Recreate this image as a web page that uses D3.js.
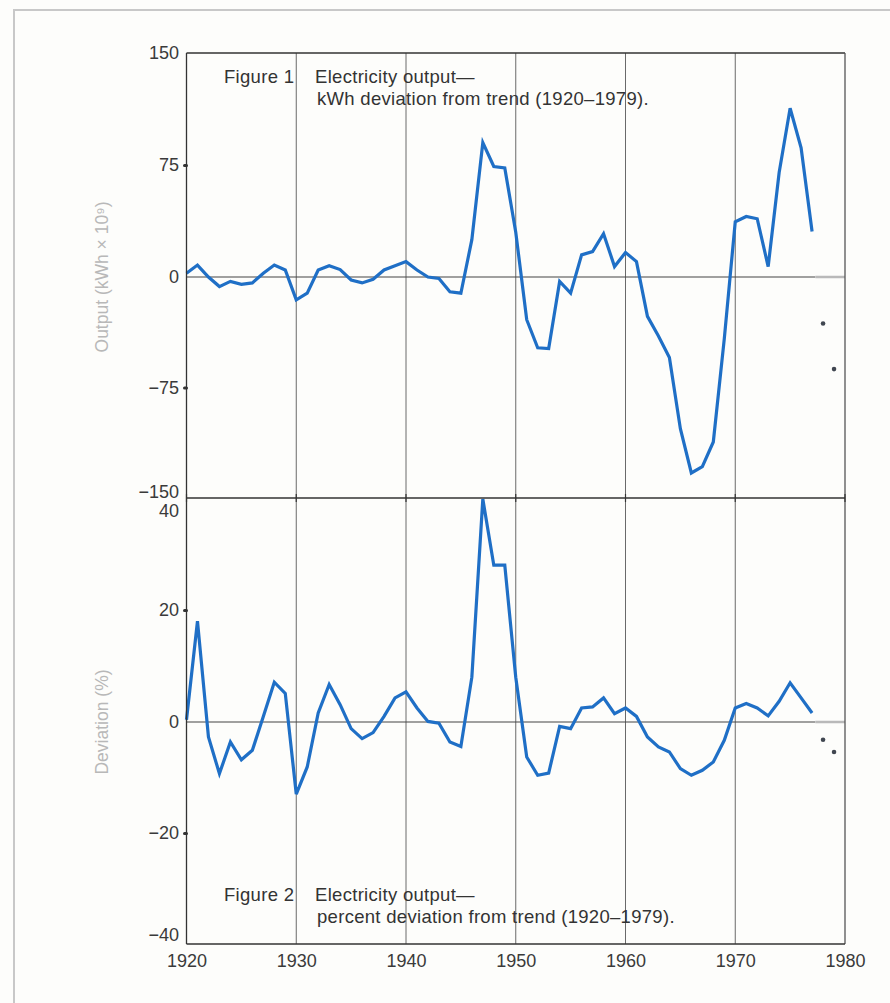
<!DOCTYPE html>
<html>
<head>
<meta charset="utf-8">
<script src="https://cdn.jsdelivr.net/npm/d3@7"></script>
<style>
  html, body { margin: 0; padding: 0; background: #fdfdfb; }
  svg { display: block; }
  text { font-family: "Liberation Sans", Arial, Helvetica, sans-serif; }
</style>
</head>
<body>
<div id="chart"></div>
<script>
// Years with observed values
const years = [
  1920, 1921, 1922, 1923, 1924, 1925, 1926, 1927, 1928, 1929,
  1930, 1931, 1932, 1933, 1934, 1935, 1936, 1937, 1938, 1939,
  1940, 1941, 1942, 1943, 1944, 1945, 1946, 1947, 1948, 1949,
  1950, 1951, 1952, 1953, 1954, 1955, 1956, 1957, 1958, 1959,
  1960, 1961, 1962, 1963, 1964, 1965, 1966, 1967, 1968, 1969,
  1970, 1971, 1972, 1973, 1974, 1975, 1976, 1977
];

// Figure 1: kWh deviation from trend (x 10^9)
const kwhDeviation = [
  2.5, 8, 0, -6.5, -3, -5, -4, 2.5, 8, 4.7,
  -15.5, -11, 4.7, 7.6, 5, -2, -4, -1.5, 4.7, 7.6,
  10.3, 4.7, 0, -1, -10, -11, 25, 90, 74, 73,
  30, -29, -48, -48.6, -3, -11, 14.8, 17, 29, 7,
  16.4, 10.3, -26.7, -40, -54.7, -103, -133, -128.7, -112, -42,
  37, 40.5, 39, 7, 70, 113, 86.5, 30.5
];

// Figure 2: percent deviation from trend
const pctDeviation = [
  0.4, 18, -2.7, -9.3, -3.6, -6.8, -5.1, 1, 7.1, 5.1,
  -13, -8.1, 1.6, 6.7, 3.1, -1.2, -3, -1.9, 1, 4.3,
  5.4, 2.5, 0.1, -0.2, -3.6, -4.4, 8, 39.8, 28, 28,
  8, -6.3, -9.6, -9.2, -0.8, -1.2, 2.5, 2.7, 4.3, 1.5,
  2.5, 1, -2.7, -4.5, -5.4, -8.4, -9.6, -8.7, -7.2, -3.3,
  2.5, 3.3, 2.5, 1.1, 3.7, 7, 4.3, 1.6
];

// Isolated points for the last two years
const extraYears = [1978, 1979];
const kwhExtra = [-31.6, -62.5];
const pctExtra = [-3.2, -5.4];

const decadeTicks = [1920, 1930, 1940, 1950, 1960, 1970, 1980];
const kwhTicks = [150, 75, 0, -75, -150];
const pctTicks = [40, 20, 0, -20, -40];

const width = 890, height = 1003;
const blue = '#1f6fc6';

const svg = d3.select('#chart')
  .append('svg')
  .attr('width', width)
  .attr('height', height);

// page background + scan frame
svg.append('rect').attr('width', width).attr('height', height).attr('fill', '#fdfdfb');
svg.append('path')
  .attr('d', 'M14,1003 L14,10 L890,10')
  .attr('fill', 'none')
  .attr('stroke', '#c8c8c8')
  .attr('stroke-width', 2);

// scales
const x = d3.scaleLinear().domain([1920, 1980]).range([186.5, 845]);
const yTop = d3.scaleLinear().domain([-150, 0, 150]).range([498, 277, 53]);
const yBot = d3.scaleLinear().domain([-40, 0, 40]).range([944, 722, 498]);

const fmt = v => v < 0 ? '\u2212' + Math.abs(v) : String(v);

// vertical decade grid through both panels
svg.append('g')
  .selectAll('line')
  .data(decadeTicks.slice(1, -1))
  .join('line')
  .attr('x1', d => x(d)).attr('x2', d => x(d))
  .attr('y1', yTop(150)).attr('y2', yBot(-40))
  .attr('stroke', '#6a6a6a')
  .attr('stroke-width', 1);

function drawPanel(yScale, ticks, values, extraValues, yMax, yMin, labelShift, title) {
  const g = svg.append('g');

  // zero line
  g.append('line')
    .attr('x1', x(1920)).attr('x2', x(1977.3))
    .attr('y1', yScale(0)).attr('y2', yScale(0))
    .attr('stroke', '#444').attr('stroke-width', 1.2);
  g.append('line')
    .attr('x1', x(1977.3)).attr('x2', x(1980))
    .attr('y1', yScale(0)).attr('y2', yScale(0))
    .attr('stroke', '#b9b9b9').attr('stroke-width', 2.5);

  // left axis with dot-like ticks
  const axis = d3.axisLeft(yScale)
    .tickValues(ticks.filter(t => t !== yMax && t !== yMin && t !== 0))
    .tickSize(2)
    .tickFormat('');
  const ag = g.append('g').attr('transform', `translate(${x(1920)},0)`).call(axis);
  ag.select('.domain').remove();
  ag.selectAll('.tick line').attr('stroke', '#333').attr('stroke-width', 3).attr('stroke-linecap', 'round');

  // tick labels
  g.append('g')
    .selectAll('text')
    .data(ticks)
    .join('text')
    .attr('x', 179)
    .attr('y', d => yScale(d) + (labelShift[d] || 0))
    .attr('dy', '0.35em')
    .attr('text-anchor', 'end')
    .attr('font-size', 18)
    .attr('fill', '#3a3a3a')
    .text(fmt);

  // axis title
  g.append('text')
    .attr('transform', `translate(108,${yScale(0)}) rotate(-90)`)
    .attr('text-anchor', 'middle')
    .attr('font-size', 17.5)
    .attr('fill', '#b8b8b8')
    .text(title);

  // series line
  const line = d3.line()
    .x((d, i) => x(years[i]))
    .y(d => yScale(d));
  g.append('path')
    .datum(values)
    .attr('d', line)
    .attr('fill', 'none')
    .attr('stroke', blue)
    .attr('stroke-width', 3.2)
    .attr('stroke-linejoin', 'miter');

  // isolated points
  g.append('g')
    .selectAll('circle')
    .data(extraValues)
    .join('circle')
    .attr('cx', (d, i) => x(extraYears[i]))
    .attr('cy', d => yScale(d))
    .attr('r', 2.3)
    .attr('fill', '#404650');
}

drawPanel(yTop, kwhTicks, kwhDeviation, kwhExtra, 150, -150, { '-150': -6 }, 'Output (kWh \u00d7 10\u2079)');
drawPanel(yBot, pctTicks, pctDeviation, pctExtra, 40, -40, { '40': 13, '-40': -9 }, 'Deviation (%)');

// frame: top, left, right, middle divider, bottom axis
const frame = svg.append('g').attr('fill', 'none').attr('stroke', '#333').attr('stroke-width', 1.3);
frame.append('line').attr('x1', x(1920)).attr('x2', x(1980)).attr('y1', yTop(150)).attr('y2', yTop(150));
frame.append('line').attr('x1', x(1920)).attr('x2', x(1920)).attr('y1', yTop(150)).attr('y2', yBot(-40));
frame.append('line').attr('x1', x(1980)).attr('x2', x(1980)).attr('y1', yTop(150)).attr('y2', yBot(-40)).attr('stroke', '#555');
frame.append('line').attr('x1', x(1920)).attr('x2', x(1980)).attr('y1', yBot(40)).attr('y2', yBot(40));
frame.append('line').attr('x1', x(1920)).attr('x2', x(1980)).attr('y1', yBot(-40)).attr('y2', yBot(-40));

// divider decade ticks
svg.append('g')
  .selectAll('line')
  .data(decadeTicks)
  .join('line')
  .attr('x1', d => x(d)).attr('x2', d => x(d))
  .attr('y1', yBot(40) - 4).attr('y2', yBot(40) + 4)
  .attr('stroke', '#333').attr('stroke-width', 1.2);

// bottom axis labels
const xAxis = d3.axisBottom(x).tickValues(decadeTicks).tickSize(0).tickPadding(10).tickFormat(d3.format('d'));
const xg = svg.append('g').attr('transform', `translate(0,${yBot(-40)})`).call(xAxis);
xg.select('.domain').remove();
xg.selectAll('text')
  .attr('font-size', 18)
  .attr('font-family', '"Liberation Sans", Arial, Helvetica, sans-serif')
  .attr('fill', '#3a3a3a');

// figure captions
function caption(label, line1, line2, baseline) {
  const c = svg.append('g').attr('font-size', 18.5).attr('fill', '#333').attr('letter-spacing', 0.3);
  c.append('text').attr('x', 224).attr('y', baseline).text(label);
  c.append('text').attr('x', 315).attr('y', baseline).text(line1);
  c.append('text').attr('x', 317).attr('y', baseline + 22).text(line2);
}
caption('Figure 1', 'Electricity output\u2014', 'kWh deviation from trend (1920\u20131979).', 83);
caption('Figure 2', 'Electricity output\u2014', 'percent deviation from trend (1920\u20131979).', 901);
</script>
</body>
</html>
